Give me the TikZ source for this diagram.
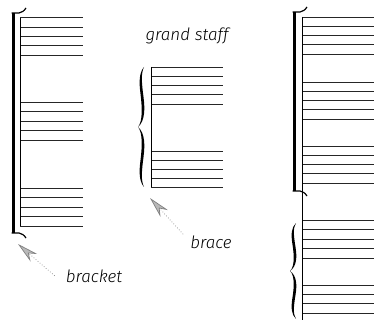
\documentclass[tikz,border=0pt]{standalone}
\usepackage{fontspec}
\setmainfont{Fira Sans}[ItalicFont={Fira Sans Light Italic}]
\usetikzlibrary{arrows.meta, positioning, calc}

\tikzset{
  staffline/.style={line width=0.8pt, black!85},
  sysline/.style={line width=0.8pt, black},
  pointer/.style={gray, dotted, line width=0.7pt,
    -{Stealth[length=21pt, width=10pt, fill=gray!55]}},
  lbl/.style={font=\itshape\fontsize{17}{20}\selectfont, inner sep=1pt},
  calbrace/.pic={
    \fill (6,-1) .. controls (1,-0.9) and (1,-0.75) .. (2.5,-0.55)
      .. controls (4,-0.35) and (5,-0.1) .. (0,0)
      .. controls (5,0.1) and (4,0.35) .. (2.5,0.55)
      .. controls (1,0.75) and (1,0.9) .. (6,1)
      .. controls (3,0.9) and (3.5,0.75) .. (5.5,0.5)
      .. controls (7,0.3) and (7,0.1) .. (0,0)
      .. controls (7,-0.1) and (7,-0.3) .. (5.5,-0.5)
      .. controls (3.5,-0.75) and (3,-0.9) .. (6,-1) -- cycle;
  }
}

% five lines: x from, x to, top line, spacing
\newcommand{\staff}[4]{%
  \foreach \i in {0,...,4}
    \draw[staffline] (#1,{#3+\i*#4}) -- (#2,{#3+\i*#4});}

% thick bracket with hooks: x, top, bottom
\newcommand{\sysbracket}[3]{%
  \draw[line width=3pt] (#1,#2) -- (#1,#3);
  \draw[line width=1.2pt] ({#1-1.5},#2) -- ({#1+6},#2) .. controls ({#1+9},{#2-0.5}) and ({#1+11},{#2-2}) .. ({#1+13},{#2-5});
  \draw[line width=1.2pt] ({#1-1.5},#3) -- ({#1+6},#3) .. controls ({#1+9},{#3+0.5}) and ({#1+11},{#3+2}) .. ({#1+13},{#3+5});}

\begin{document}
\begin{tikzpicture}[x=1pt, y=-1pt]
\clip (0,0) rectangle (374,320);

% --- left system: bracket ---
\staff{20}{83}{17.7}{9.4}
\staff{20}{83}{102}{9.5}
\staff{20}{83}{188}{9.5}
\draw[sysline] (20,17.7) -- (20,226);
\sysbracket{13}{13}{233}

\coordinate (brackettip) at (18,244);
\node[lbl, anchor=base] (bracketlbl) at (94,282) {bracket};
\draw[pointer] ([xshift=-10pt]bracketlbl.west) -- (brackettip);

% --- middle system: grand staff ---
\node[lbl, anchor=base] (grandlbl) at (187,41) {grand staff};
\staff{151}{223}{67}{9.25}
\staff{151}{223}{151}{9}
\draw[sysline] (151,67) -- (151,187);
\pic[yscale=60] at (138,127) {calbrace};

\coordinate (bracetip) at (150,198);
\node[lbl, anchor=base] (bracelbl) at (211,248) {brace};
\draw[pointer] ([xshift=-6pt]bracelbl.north west) -- (bracetip);

% --- right system: bracket and brace ---
\staff{302}{374}{17}{9.25}
\staff{302}{374}{82}{9.25}
\staff{302}{374}{146}{9.25}
\staff{302}{374}{220}{9.5}
\staff{302}{374}{285}{9.4}
\draw[sysline] (302,17) -- (302,320);
\sysbracket{294}{12}{191}
\pic[yscale=48] at (290,271) {calbrace};

\end{tikzpicture}
\end{document}
